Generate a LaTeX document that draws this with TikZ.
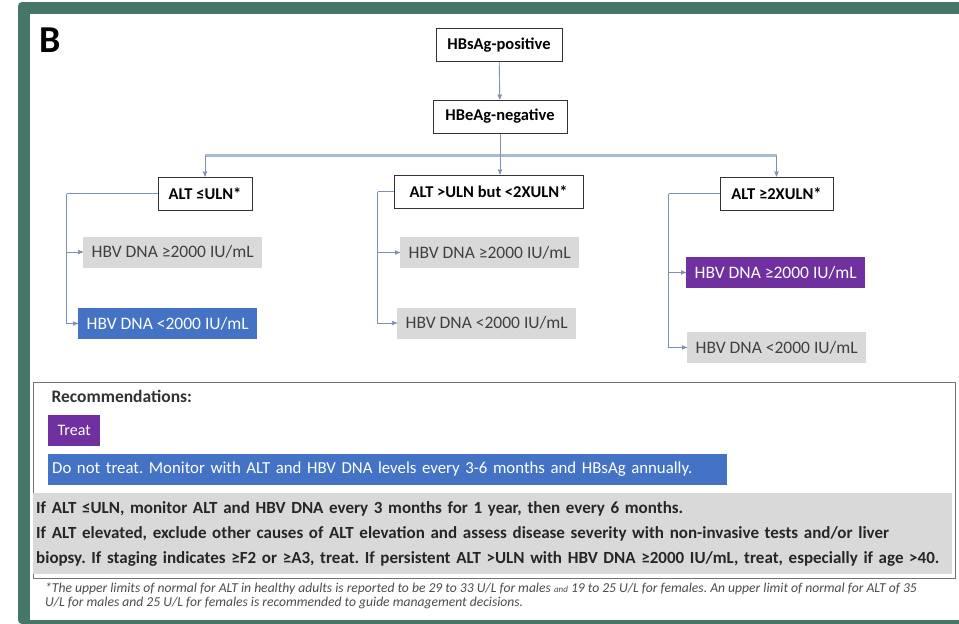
\documentclass[tikz,border=0pt]{standalone}
\usepackage{fontspec}
\setmainfont{Carlito}
\usepackage{tikz}
\usetikzlibrary{arrows,positioning}
\definecolor{framec}{HTML}{44776A}
\definecolor{treatc}{HTML}{7030A0}
\definecolor{monc}{HTML}{4472C4}
\definecolor{greyc}{HTML}{D9D9D9}
\definecolor{linkc}{HTML}{7F90B5}
\definecolor{trunkc}{HTML}{A9BBD3}
\frenchspacing

\begin{document}
\begin{tikzpicture}
[x=1pt,y=-1pt,>=stealth',font=\fontsize{17.5}{20}\selectfont]
  \tikzstyle{question}=[draw=black!80,line width=1pt,fill=white,inner sep=2pt,
    minimum height=33pt,font=\fontsize{16.5}{19}\selectfont\bfseries]
  \tikzstyle{result}=[fill=greyc,text=black!75,anchor=west,inner sep=2pt,
    minimum width=179pt,minimum height=31pt]
  \tikzstyle{treat}=[result,fill=treatc,text=white]
  \tikzstyle{monitor}=[result,fill=monc,text=white]
  \tikzstyle{link}=[->,draw=linkc,line width=0.9pt]
  \tikzstyle{trunk}=[draw=trunkc,line width=3pt]

  % frame
  \useasboundingbox (0,0) rectangle (959,624);
  \fill[framec,rounded corners=4pt] (18,2) rectangle (980,624);
  \fill[white] (30,14) rectangle (959,620);
  \node[font=\fontsize{38}{40}\selectfont\bfseries] (panel) at (50,40) {B};

  % tree
  \node[question,minimum width=126pt] (pos) at (499,45) {HBsAg-positive};
  \node[question,minimum width=134pt] (neg) at (500,116.5) {HBeAg-negative};
  \node[question,minimum width=94pt]  (altlow)  at (205,193.5) {ALT ≤ULN*};
  \node[question,minimum width=189pt] (altmid)  at (488.5,191.5) {ALT >ULN but <2XULN*};
  \node[question,minimum width=113pt] (althigh) at (776.5,193.5) {ALT ≥2XULN*};

  \node[result]  (lowhi)  at (83,252)    {HBV DNA ≥2000 IU/mL};
  \node[monitor] (lowlo)  at (78,323.5)  {HBV DNA <2000 IU/mL};
  \node[result]  (midhi)  at (400,252.5) {HBV DNA ≥2000 IU/mL};
  \node[result]  (midlo)  at (397,323)   {HBV DNA <2000 IU/mL};
  \node[treat]   (highhi) at (686,272.5) {HBV DNA ≥2000 IU/mL};
  \node[result]  (highlo) at (687,347.5) {HBV DNA <2000 IU/mL};

  \coordinate (split) at ([yshift=-22pt]neg.south);
  \draw[link] (pos) -- (neg);
  \draw[trunk] (split -| altlow.north) -- (split -| althigh.north);
  \draw[link] (neg.south) -- (neg.south |- altmid.north);
  \draw[link] (split -| altlow.north) -- (altlow);
  \draw[link] (split -| althigh.north) -- (althigh);

  \coordinate (lowbus)  at ([xshift=-91pt]altlow.west);
  \coordinate (midbus)  at ([xshift=-16pt]altmid.west);
  \coordinate (highbus) at ([xshift=-51pt]althigh.west);
  \draw[link,-] (altlow.west) -- (lowbus);
  \draw[link] (lowbus) |- (lowhi.west);
  \draw[link] (lowbus) |- (lowlo.west);
  \draw[link,-] (altmid.west) -- (midbus);
  \draw[link] (midbus) |- (midhi.west);
  \draw[link] (midbus) |- (midlo.west);
  \draw[link,-] (althigh.west) -- (highbus);
  \draw[link] (highbus) |- (highhi.west);
  \draw[link] (highbus) |- (highlo.west);

  % recommendations
  \node[draw=black!55,line width=1pt,anchor=north west,minimum width=922pt,
    minimum height=196pt] (recs) at (33,382) {};
  \node[anchor=west,font=\fontsize{17.5}{20}\selectfont\bfseries,text=black!80]
    (rectitle) at (48,396) {Recommendations:};
  \node[treat,minimum width=52pt,font=\fontsize{16}{18}\selectfont] (treatkey) at (48,430.5) {Treat};
  \node[monitor,minimum width=679pt,align=left,text width=671pt,
    font=\fontsize{16.8}{19}\selectfont] (monkey) at (48,469.5)
    {Do not treat. Monitor with ALT and HBV DNA levels every 3-6 months and HBsAg annually.};
  \node[fill=greyc,anchor=north west,minimum width=919pt,minimum height=81pt,
    text width=913pt,align=left,inner xsep=3pt,text=black!85,
    font=\fontsize{17}{25}\selectfont\bfseries] (note) at (33,493)
    {If ALT ≤ULN, monitor ALT and HBV DNA every 3 months for 1 year, then every 6 months.\\
     If ALT elevated, exclude other causes of ALT elevation and assess disease severity with non-invasive tests and/or liver\\
     biopsy. If staging indicates ≥F2 or ≥A3, treat. If persistent ALT >ULN with HBV DNA ≥2000 IU/mL, treat, especially if age >40.};
  \node[anchor=north west,align=left,text=black!70,inner sep=0pt,
    font=\fontsize{13.6}{14}\selectfont\itshape] (foot) at (45,583)
    {*The upper limits of normal for ALT in healthy adults is reported to be 29 to 33 U/L for males {\fontsize{9}{10}\selectfont and} 19 to 25 U/L for females. An upper limit of normal for ALT of 35\\
     U/L for males and 25 U/L for females is recommended to guide management decisions.};
\end{tikzpicture}
\end{document}
